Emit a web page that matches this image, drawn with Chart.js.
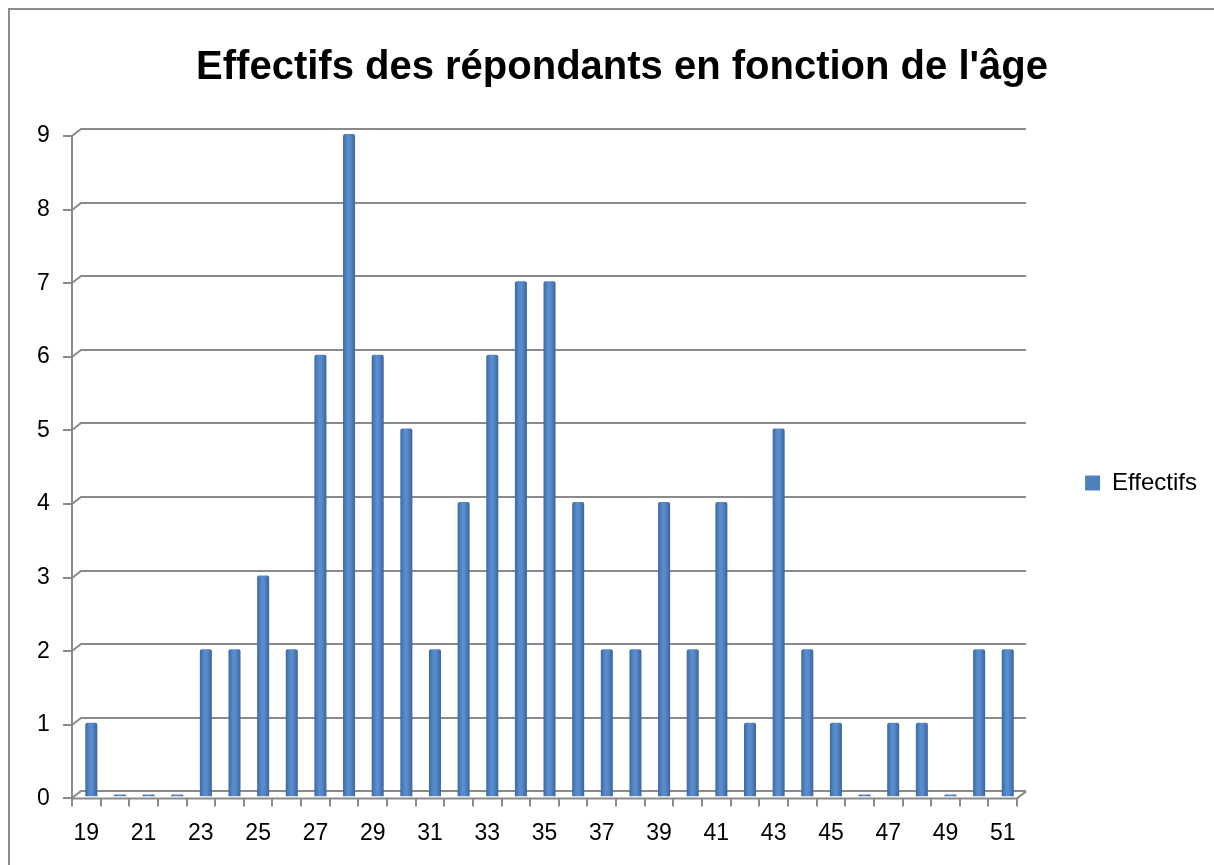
<!DOCTYPE html>
<html>
<head>
<meta charset="utf-8">
<script src="https://cdn.jsdelivr.net/npm/chart.js@4/dist/chart.umd.min.js"></script>
<style>
  html, body { margin: 0; padding: 0; background: #fff; overflow: hidden; }
  #cadre { position: absolute; left: 8px; top: 8px; width: 1300px; height: 1000px; border: 2px solid #8b8b8b; }
  #graphique { position: absolute; left: 0; top: 0; }
</style>
</head>
<body>
<div id="cadre"></div>
<canvas id="graphique" width="1214" height="865"></canvas>
<script>
var ages = ['19','20','21','22','23','24','25','26','27','28','29','30','31','32','33','34','35',
            '36','37','38','39','40','41','42','43','44','45','46','47','48','49','50','51'];
var effectifs = [1,0,0,0,2,2,3,2,6,9,6,5,2,4,6,7,7,4,2,2,4,2,4,1,5,2,1,0,1,1,0,2,2];
var graduations = [0,1,2,3,4,5,6,7,8,9];

Chart.defaults.font.family = "'Liberation Sans', Arial, sans-serif";
Chart.defaults.color = '#000';

// petit effet 3D : mur du fond, sol et axes dessinés à la main
var fond3D = {
  id: 'fond3D',
  beforeDatasetsDraw: function(chart) {
    var c = chart.ctx, a = chart.chartArea, ys = chart.scales.y;
    var dx = 9, dy = -7;
    c.save();
    c.strokeStyle = '#8a8a8a';
    c.lineWidth = 2;
    graduations.forEach(function(v) {
      var y = Math.round(ys.getPixelForValue(v));
      c.beginPath();
      c.moveTo(a.left - 9, y);
      c.lineTo(a.left, y);
      c.lineTo(a.left + dx, y + dy);
      c.lineTo(a.right + dx, y + dy);
      c.stroke();
    });
    // axe vertical
    c.beginPath();
    c.moveTo(a.left, a.top);
    c.lineTo(a.left, a.bottom);
    c.stroke();
    // bord avant du sol
    c.beginPath();
    c.moveTo(a.left, a.bottom);
    c.lineTo(a.right, a.bottom);
    c.lineTo(a.right + dx, a.bottom + dy);
    c.stroke();
    // graduations de l'axe x
    var w = (a.right - a.left) / ages.length;
    for (var i = 0; i <= ages.length; i++) {
      var x = Math.round(a.left + i * w);
      c.beginPath();
      c.moveTo(x, a.bottom);
      c.lineTo(x, a.bottom + 8);
      c.stroke();
    }
    c.restore();
    c.save();
    c.translate(5, -2);
  },
  afterDatasetsDraw: function(chart) {
    chart.ctx.restore();
  }
};

var myChart = new Chart(document.getElementById('graphique'), {
  type: 'bar',
  data: {
    labels: ages,
    datasets: [{
      label: 'Effectifs',
      data: effectifs,
      backgroundColor: function(context) {
        var chart = context.chart;
        var xs = chart.scales.x;
        if (!xs || context.dataIndex === undefined) return '#4F81BD';
        var cx = xs.getPixelForValue(context.dataIndex);
        var g = chart.ctx.createLinearGradient(cx - 6, 0, cx + 6, 0);
        g.addColorStop(0, '#3C69A3');
        g.addColorStop(0.4, '#5A8ED0');
        g.addColorStop(0.6, '#5789C9');
        g.addColorStop(1, '#3A659D');
        return g;
      },
      borderWidth: 0,
      borderRadius: 2,
      borderSkipped: 'bottom',
      minBarLength: 2,
      barPercentage: 0.42,
      categoryPercentage: 1
    }]
  },
  options: {
    responsive: false,
    animation: false,
    layout: {
      padding: { left: 37, right: 7, top: 0, bottom: -3 }
    },
    plugins: {
      title: {
        display: true,
        text: "Effectifs des répondants en fonction de l'âge",
        font: { size: 40, weight: 'bold' },
        color: '#000',
        padding: { top: 44, bottom: 44 }
      },
      legend: {
        position: 'right',
        title: {
          display: true,
          text: ' ',
          font: { size: 10, lineHeight: 1.2 },
          padding: { top: 86, bottom: 0 }
        },
        labels: {
          boxWidth: 15,
          boxHeight: 15,
          padding: 16,
          font: { size: 24 },
          color: '#000',
          generateLabels: function(chart) {
            return [{ text: 'Effectifs', fillStyle: '#4F81BD', strokeStyle: '#4F81BD', lineWidth: 0, datasetIndex: 0 }];
          }
        }
      },
      tooltip: { enabled: false }
    },
    scales: {
      x: {
        grid: { display: false, tickLength: 0 },
        border: { display: false },
        ticks: {
          autoSkip: false,
          maxRotation: 0,
          padding: 21,
          font: { size: 23 },
          callback: function(val, idx) {
            return idx % 2 === 0 ? this.getLabelForValue(val) : '';
          }
        }
      },
      y: {
        min: 0,
        max: 9,
        grid: { display: false, tickLength: 0 },
        border: { display: false },
        ticks: { stepSize: 1, padding: 11.1, crossAlign: 'far', font: { size: 23 } }
      },
      y2: {
        position: 'right',
        afterFit: function(s) { s.width = 52; },
        grid: { display: false, tickLength: 0 },
        border: { display: false },
        ticks: { display: false }
      }
    }
  },
  plugins: [fond3D]
});
</script>
</body>
</html>
